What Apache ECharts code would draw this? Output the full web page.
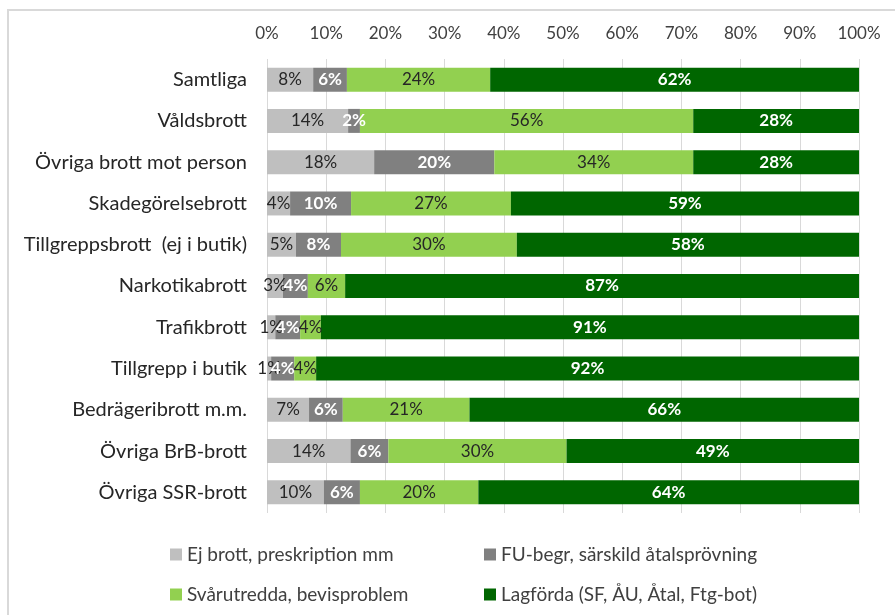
<!DOCTYPE html>
<html><head><meta charset="utf-8">
<script src="https://cdn.jsdelivr.net/npm/echarts@6/dist/echarts.min.js"></script>
<style>html,body{margin:0;padding:0;background:#fff}#c{width:895px;height:615px}</style>
</head><body><div id="c"></div>
<script>
const categories = ["Samtliga","Våldsbrott","Övriga brott mot person","Skadegörelsebrott","Tillgreppsbrott  (ej i butik)","Narkotikabrott","Trafikbrott","Tillgrepp i butik","Bedrägeribrott m.m.","Övriga BrB-brott","Övriga SSR-brott"];
const seriesNames = ["Ej brott, preskription mm","FU-begr, särskild åtalsprövning","Svårutredda, bevisproblem","Lagförda (SF, ÅU, Åtal, Ftg-bot)"];
const ejBrott   = [7.8, 13.7, 18.1, 3.9, 4.9, 2.7, 1.4, 0.7, 7.1, 14.1, 9.6];
const fuBegr    = [5.7, 2.0, 20.3, 10.3, 7.6, 4.2, 4.2, 3.9, 5.7, 6.4, 6.1];
const svarutr   = [24.2, 56.3, 33.6, 27.0, 29.7, 6.3, 3.5, 3.7, 21.4, 30.1, 20.0];
const lagforda  = [62.3, 28.0, 28.0, 58.8, 57.8, 86.8, 90.9, 91.7, 65.8, 49.4, 64.3];
const tickLabels = ["0%","10%","20%","30%","40%","50%","60%","70%","80%","90%","100%"];

const colors = ["#BFBFBF","#808080","#92D050","#006600"];
const labelStyles = [
  {color:"#262626", fontWeight:"normal"},
  {color:"#ffffff", fontWeight:"bold"},
  {color:"#262626", fontWeight:"normal"},
  {color:"#ffffff", fontWeight:"bold"}
];
const allData = [ejBrott, fuBegr, svarutr, lagforda];
const FONT = "Lato, 'Open Sans', sans-serif";

const chart = echarts.init(document.getElementById('c'));
const legendPos = [[170,545],[484,545],[170,585],[484,585]];
chart.setOption({
  animation:false,
  textStyle:{fontFamily:FONT},
  graphic:[{type:'rect', shape:{x:8, y:10, width:1000, height:1000}, style:{fill:'none', stroke:'#d9d9d9', lineWidth:2}, silent:true}],
  grid:{left:267, right:36, top:59, bottom:102, containLabel:false},
  legend: seriesNames.map((n,i)=>({
    data:[n], left:legendPos[i][0], top:legendPos[i][1], padding:0, itemWidth:12, itemHeight:12, icon:'rect', itemGap:5,
    textStyle:{fontFamily:FONT, fontSize:19, color:'#404040'}
  })),
  xAxis:{type:'value', position:'top', min:0, max:100, interval:10,
    axisLabel:{formatter:v=>tickLabels[v/10], color:'#404040', fontSize:17, margin:17, fontFamily:FONT},
    splitLine:{show:true, lineStyle:{color:'#d9d9d9', width:1}},
    axisLine:{show:false}, axisTick:{show:false}},
  yAxis:{type:'category', data:categories, inverse:true,
    axisLabel:{color:'#262626', fontSize:20, margin:20, fontFamily:FONT},
    axisLine:{show:false}, axisTick:{show:false}},
  series: seriesNames.map((n,i)=>({
    name:n, type:'bar', stack:'a', barWidth:24, data:allData[i],
    itemStyle:{color:colors[i]},
    label:{show:true, position:'inside', fontSize:17, fontFamily:FONT, color:labelStyles[i].color, fontWeight:labelStyles[i].fontWeight,
      formatter:p=>Math.round(p.value)+'%'}
  }))
});
</script></body></html>
